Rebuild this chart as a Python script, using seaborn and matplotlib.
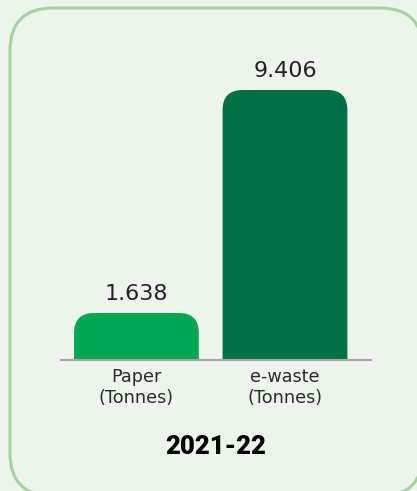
import matplotlib
matplotlib.use("Agg")
import matplotlib.pyplot as plt
from matplotlib.patches import FancyBboxPatch
import seaborn as sns

# ---- data ----
categories = ["Paper\n(Tonnes)", "e-waste\n(Tonnes)"]
values = [1.638, 9.406]
value_labels = ["1.638", "9.406"]
bar_colors = ["#00A651", "#006F45"]
year_label = "2021-22"

BG = "#EDF4EC"
BORDER = "#A3D3A3"

sns.set_theme(style="white")
plt.rcParams["font.family"] = ["DejaVu Sans"]

W, H = 417, 491
fig = plt.figure(figsize=(W / 100, H / 100), dpi=100, facecolor=BG)

# overlay axes in pixel coordinates for the rounded frame
bg_ax = fig.add_axes([0, 0, 1, 1])
bg_ax.set_xlim(0, W)
bg_ax.set_ylim(H, 0)
bg_ax.axis("off")
bg_ax.set_facecolor(BG)
frame = FancyBboxPatch((10, 8), 413, 488,
                       boxstyle="round,pad=0,rounding_size=43",
                       facecolor=BG, edgecolor=BORDER, linewidth=2.2)
bg_ax.add_patch(frame)

# main chart axes
ax = fig.add_axes([61 / W, 1 - 360 / H, 310 / W, 320 / H])
ax.set_facecolor("none")
sns.barplot(x=categories, y=values, hue=categories, palette=bar_colors,
            width=0.84, saturation=1, legend=False, ax=ax)
ax.set_xlim(-0.508, 1.579)
ax.set_ylim(0, 11.148)

fig.canvas.draw()
# convert 20 px corner radius to data units
inv = ax.transData.inverted()
x0, y0 = inv.transform((0, 0))
x1, y1 = inv.transform((20, 20))
rx, ry = abs(x1 - x0), abs(y1 - y0)

for p in list(ax.patches):
    x, w, h = p.get_x(), p.get_width(), p.get_height()
    fc = p.get_facecolor()
    p.remove()
    rb = FancyBboxPatch((x, -ry), w, h + ry,
                        boxstyle=f"round,pad=0,rounding_size={rx}",
                        mutation_aspect=ry / rx,
                        facecolor=fc, edgecolor="none", zorder=2)
    ax.add_patch(rb)

for i, (v, lab) in enumerate(zip(values, value_labels)):
    ax.annotate(lab, (i, v), xytext=(0, 9.5), textcoords="offset points",
                ha="center", va="baseline", fontsize=16, color="#222222")

for s in ["top", "right", "left"]:
    ax.spines[s].set_visible(False)
ax.spines["bottom"].set_color("#A8A8A8")
ax.spines["bottom"].set_linewidth(1.5)
ax.spines["bottom"].set_zorder(3)
ax.set_yticks([])
ax.set_ylabel("")
ax.set_xlabel("")
ax.tick_params(axis="x", length=0, pad=6, labelsize=12.7, labelcolor="#2a2a2a")

fig.text(216 / W, 1 - 447 / H, year_label, ha="center", va="center",
         fontsize=18.5, fontweight="black", family=["Roboto", "DejaVu Sans"],
         color="#000000")

fig.savefig("out.png", dpi=100, facecolor=BG)
